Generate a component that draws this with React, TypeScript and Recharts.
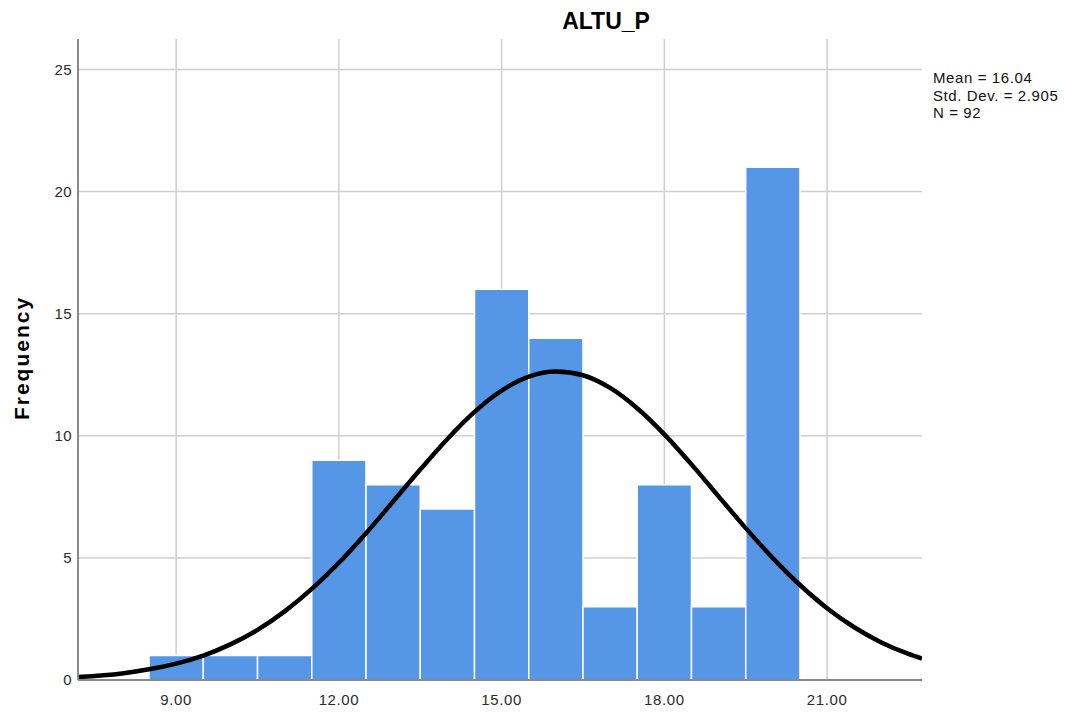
import {
  ComposedChart,
  Line,
  XAxis,
  YAxis,
  CartesianGrid,
  ReferenceArea,
} from "recharts";

// Histogram bins (bin centre, width 1) and counts.
const BIN_CENTERS = [9, 10, 11, 12, 13, 14, 15, 16, 17, 18, 19, 20];
const COUNTS = [1, 1, 1, 9, 8, 7, 16, 14, 3, 8, 3, 21];

// Fitted normal curve.
const CURVE_X = [
  7.19, 8, 8.5, 9, 9.5, 10, 10.5, 11, 11.5, 12, 12.5, 13, 13.5, 14, 14.5, 15,
  15.5, 16, 16.5, 17, 17.5, 18, 18.5, 19, 19.5, 20, 20.5, 21, 21.5, 22, 22.5,
  22.75,
];
const CURVE_Y = [
  0.12, 0.27, 0.44, 0.67, 1.0, 1.46, 2.05, 2.81, 3.73, 4.8, 6.01, 7.31, 8.62,
  9.87, 10.98, 11.85, 12.42, 12.63, 12.48, 11.96, 11.13, 10.06, 8.83, 7.52,
  6.22, 4.99, 3.89, 2.94, 2.16, 1.54, 1.07, 0.88,
];

const X_TICKS = [9, 12, 15, 18, 21];
const Y_TICKS = [0, 5, 10, 15, 20, 25];
const STATS = ["Mean = 16.04", "Std. Dev. = 2.905", "N = 92"];

const FONT = "'Liberation Sans', Arial, sans-serif";

const rows = CURVE_X.map((x, i) => ({ x, fit: CURVE_Y[i] }));

function XTick({ x, y, payload }: any) {
  return (
    <text
      x={x}
      y={y + 17}
      textAnchor="middle"
      fontSize={15}
      fontFamily={FONT}
      letterSpacing={0.6}
      fill="#2b2b2b"
    >
      {Number(payload.value).toFixed(2)}
    </text>
  );
}

function YTick({ x, y, payload }: any) {
  return (
    <text
      x={x + 2}
      y={y + 5}
      textAnchor="end"
      fontSize={15}
      fontFamily={FONT}
      letterSpacing={0.4}
      fill="#2b2b2b"
    >
      {payload.value}
    </text>
  );
}

export default function App() {
  return (
    <div
      style={{
        position: "absolute",
        left: 0,
        top: 0,
        width: 1065,
        height: 713,
        background: "#fff",
        fontFamily: FONT,
      }}
    >
      <ComposedChart
        width={1065}
        height={713}
        data={rows}
        margin={{ top: 39, right: 143, bottom: 8, left: 8 }}
      >
        <CartesianGrid
          stroke="#cfcfcf"
          strokeWidth={1.5}
          horizontalValues={Y_TICKS}
          verticalValues={X_TICKS}
        />
        <XAxis
          dataKey="x"
          type="number"
          domain={[7.19, 22.75]}
          allowDataOverflow
          ticks={X_TICKS}
          tick={<XTick />}
          tickLine={false}
          stroke="#8a8a8a"
          strokeWidth={2}
          height={25}
        />
        <YAxis
          type="number"
          domain={[0, 26.25]}
          allowDataOverflow
          ticks={Y_TICKS}
          tick={<YTick />}
          tickLine={false}
          stroke="#8a8a8a"
          strokeWidth={2}
          width={70}
        />
        {BIN_CENTERS.map((c, i) => (
          <ReferenceArea
            key={c}
            x1={c - 0.5}
            x2={c + 0.5}
            y1={0}
            y2={COUNTS[i]}
            fill="#5596e6"
            fillOpacity={1}
            stroke="#ffffff"
            strokeWidth={1.5}
          />
        ))}
        <Line
          dataKey="fit"
          type="monotone"
          stroke="#000"
          strokeWidth={4.5}
          dot={false}
          isAnimationActive={false}
        />
      </ComposedChart>

      <div
        style={{
          position: "absolute",
          left: 0,
          width: 1212,
          top: 8,
          textAlign: "center",
          fontSize: 23,
          fontWeight: "bold",
          color: "#000",
        }}
      >
        ALTU_P
      </div>

      <div
        style={{
          position: "absolute",
          left: 22,
          top: 358,
          transform: "translate(-50%, -50%) rotate(-90deg)",
          fontSize: 21,
          fontWeight: "bold",
          letterSpacing: 2,
          whiteSpace: "nowrap",
        }}
      >
        Frequency
      </div>

      <div
        style={{
          position: "absolute",
          left: 933,
          top: 69,
          fontSize: 15,
          letterSpacing: 0.6,
          lineHeight: "17.5px",
          color: "#111",
        }}
      >
        {STATS.map((s) => (
          <div key={s}>{s}</div>
        ))}
      </div>
    </div>
  );
}
